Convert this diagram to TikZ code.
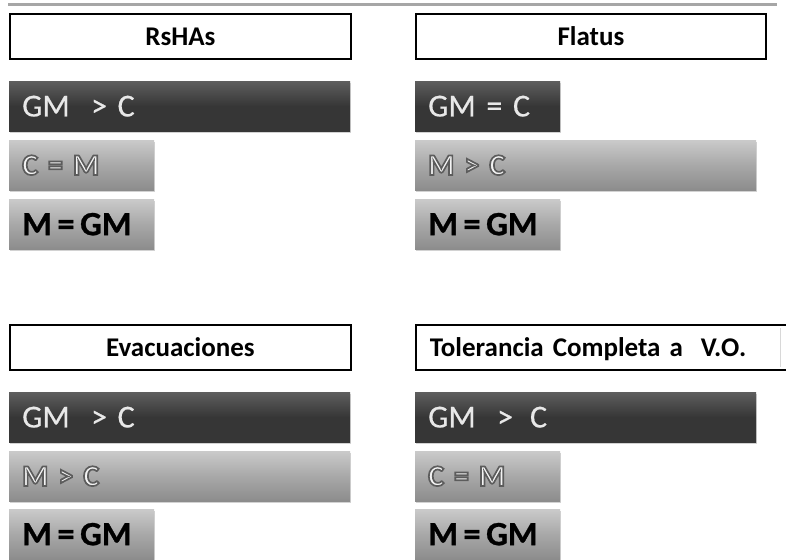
\documentclass[tikz,border=0pt]{standalone}
\usepackage{fontspec}
\setmainfont{Carlito}
\newfontfamily\heavyfont[FakeBold=0.8]{Carlito Bold}
\newfontfamily\midfont[FakeBold=0.5]{Carlito}
\newfontfamily\outfont{Carlito Bold}
\usetikzlibrary{shadows}
\definecolor{darkfill}{HTML}{363636}
\definecolor{darktop}{HTML}{5E5E5E}
\definecolor{greytop}{HTML}{CACACA}
\definecolor{greybot}{HTML}{8C8C8C}
\definecolor{greymid}{HTML}{A8A8A8}
\definecolor{rulegrey}{HTML}{A6A6A6}
\definecolor{darktext}{HTML}{E8E8E8}
\definecolor{outtext}{HTML}{F4F4F4}
\definecolor{faint}{HTML}{D8D8D8}
\newcommand{\outlined}[1]{%
  \special{pdf:literal direct 2 Tr 1.7 w 0.36 0.36 0.36 RG}#1\special{pdf:literal direct 0 Tr}}
\tikzset{
  x=1pt, y=-1pt,
  titlebox/.style={draw=black, line width=1.8pt, fill=white, anchor=north west,
    minimum height=45pt, inner sep=0pt, text depth=0pt, font=\bfseries\fontsize{27}{28}\selectfont},
  barbase/.style={anchor=north west, minimum height=50pt, inner xsep=13pt, inner ysep=0pt,
    align=left, drop shadow={opacity=0.35, shadow xshift=1pt, shadow yshift=-2pt}},
  darkbar/.style={barbase, top color=darktop, bottom color=darkfill, middle color=darkfill,
    text=darktext, font=\midfont\fontsize{32}{33}\selectfont},
  greybar/.style={barbase, top color=greytop, bottom color=greybot, middle color=greymid,
    text=outtext, font=\outfont\fontsize{30}{31}\selectfont},
  boldbar/.style={barbase, top color=greytop, bottom color=greybot, middle color=greymid,
    text=black, font=\heavyfont\fontsize{34}{35}\selectfont},
}
\begin{document}
\begin{tikzpicture}
\useasboundingbox (0,0) rectangle (786,559);
\clip (0,0) rectangle (786,559);
\fill[white] (0,0) rectangle (786,559);
\coordinate (ruleL) at (8,5);
\coordinate (ruleR) at (777,5);
\draw[rulegrey, line width=3pt] (ruleL) -- (ruleR);

% top left: RsHAs
\node[titlebox, minimum width=341pt] (t1) at (9,13) {RsHAs};
\node[darkbar, text width=315pt, minimum width=341pt] (a1) at (9,81) {GM\ \ > C};
\node[greybar, text width=119pt, minimum width=145pt] (b1) at (9,140) {\outlined{C = M}};
\node[boldbar, text width=119pt, minimum width=145pt] (c1) at (9,199) {M\,=\,GM};

% top right: Flatus
\node[titlebox, minimum width=350pt] (t2) at (415,13) {Flatus};
\node[darkbar, text width=119pt, minimum width=145pt] (a2) at (415,81) {GM = C};
\node[greybar, text width=315pt, minimum width=341pt] (b2) at (415,140) {\outlined{M > C}};
\node[boldbar, text width=119pt, minimum width=145pt] (c2) at (415,199) {M\,=\,GM};

% bottom left: Evacuaciones
\node[titlebox, minimum width=341pt] (t3) at (9,324) {Evacuaciones};
\node[darkbar, text width=315pt, minimum width=341pt] (a3) at (9,392) {GM\ \ > C};
\node[greybar, text width=315pt, minimum width=341pt] (b3) at (9,451) {\outlined{M > C}};
\node[boldbar, text width=119pt, minimum width=145pt] (c3) at (9,509) {M\,=\,GM};

% bottom right: Tolerancia
\node[titlebox, minimum width=400pt, text width=386pt, align=left, inner xsep=14pt] (t4) at (415,324) {Tolerancia Completa a\ \ V.O.};
\coordinate (fA) at (780,328);
\coordinate (fB) at (780,367);
\draw[faint, line width=1pt] (fA) -- (fB);
\node[darkbar, text width=315pt, minimum width=341pt] (a4) at (415,392) {GM\ \ >\hspace{17pt}C};
\node[greybar, text width=119pt, minimum width=145pt] (b4) at (415,451) {\outlined{C = M}};
\node[boldbar, text width=119pt, minimum width=145pt] (c4) at (415,509) {M\,=\,GM};
\end{tikzpicture}
\end{document}
